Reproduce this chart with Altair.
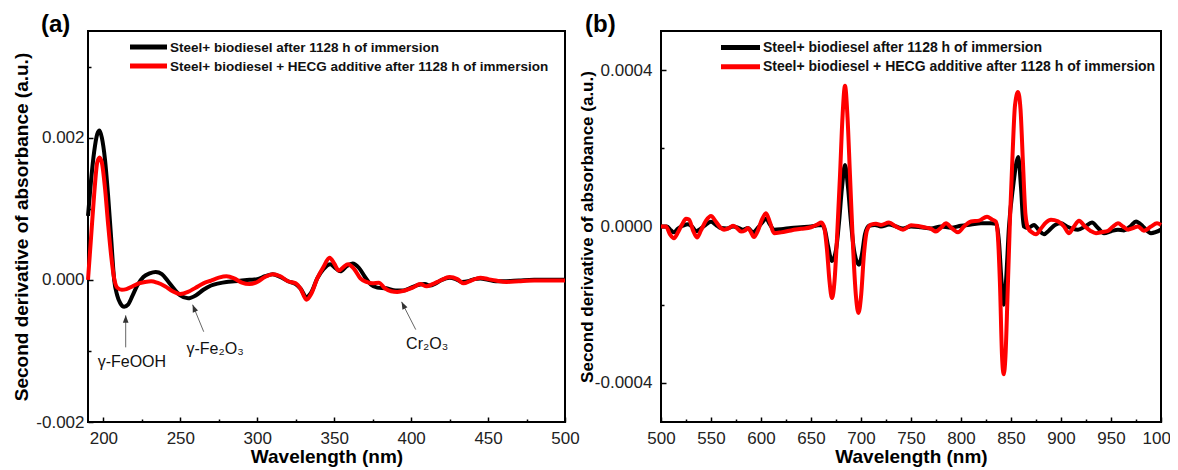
import altair as alt
import pandas as pd

FONT = "Liberation Sans"

SERIES = ["Steel+ biodiesel after 1128 h of immersion",
          "Steel+ biodiesel + HECG additive after 1128 h of immersion"]
COLORS = ["#000000", "#ff0000"]

# ---------------- panel (a): 190-500 nm ----------------
A_BLACK_W = [190, 192, 194, 196, 197.5, 199, 201, 203, 205, 207, 209, 211, 213.5, 216, 219, 222,
             226, 230, 234, 238, 242, 246, 250, 255, 260, 265, 270, 275, 280, 285, 290, 295, 300,
             305, 310, 315, 320, 325, 328, 332, 335, 339, 343, 347.5, 351, 354, 358, 362, 366, 370,
             374, 378, 384, 390, 395, 400, 405, 409, 412, 416, 420, 425, 429, 433, 437, 441, 445,
             450, 455, 460, 470, 480, 490, 500]
A_BLACK_V = [0.0009, 0.0014, 0.0018, 0.00205, 0.0021, 0.0020, 0.0017, 0.0012, 0.0006, 0.0, -0.00022,
             -0.00033, -0.00038, -0.00035, -0.00022, -0.00008, 0.00004, 0.00009, 0.00011, 0.00008,
             -0.00002, -0.00013, -0.00022, -0.00026, -0.00022, -0.00014, -0.00008, -0.00005, -0.00003,
             -0.00002, -0.00001, 0.0, 0.00001, 0.00005, 0.00008, 0.00004, -0.00002, -0.00006, -0.00012,
             -0.00024, -0.00018, 0.00002, 0.00015, 0.00022, 0.00016, 0.00012, 0.00019, 0.00023, 0.00017,
             0.00004, -0.00007, -0.00011, -0.00012, -0.00015, -0.00015, -0.00011, -0.00007, -0.00006,
             -0.00008, -0.00005, 0.0, 0.00003, 0.00001, -0.00003, -0.00002, 0.00001, 0.00002, 0.0,
             -0.00002, -0.00002, -0.00001, 0.0, 0.0, 0.0]
A_RED_W = [190, 192, 194, 196, 197.5, 199, 201, 203, 205, 207, 209, 212, 215, 219, 223, 227, 231, 235,
           240, 245, 250, 255, 260, 265, 270, 275, 280, 285, 290, 295, 300, 305, 310, 315, 320, 325,
           328, 332, 335, 339, 343, 347, 350, 353, 356, 359, 363, 367, 371, 375, 379, 383, 387, 391,
           396, 401, 406, 410, 414, 419, 425, 430, 434, 439, 445, 450, 455, 462, 470, 480, 490, 500]
A_RED_V = [0.0, 0.0006, 0.0012, 0.00165, 0.00172, 0.00165, 0.0013, 0.0008, 0.00035, 0.00002, -0.00011,
           -0.00014, -0.00013, -0.00009, -0.00005, -0.00003, -0.00002, -0.00004, -0.00009, -0.00016,
           -0.0002, -0.00017, -0.00011, -0.00005, -0.00001, 0.00003, 0.00005, 0.00002, -0.00004,
           -0.00006, -0.00003, 0.00004, 0.00008, 0.00005, -0.00002, -0.00005, -0.00012, -0.00028,
           -0.0002, 0.00002, 0.00018, 0.00031, 0.00023, 0.00013, 0.00018, 0.00022, 0.00015, 0.00002,
           -0.00003, -0.00005, -0.00004, -0.00012, -0.00016, -0.00017, -0.00015, -0.00011, -0.00006,
           -0.00009, -0.00006, -0.00001, 0.00004, 0.00001, -0.00005, -0.00001, 0.00003, 0.00001,
           -0.00001, -0.00003, -0.00002, -0.00001, -0.00001, -0.00001]

A_XDOM = [190, 500]
A_YDOM = [-0.002, 0.0035]
A_XMAJOR = [200, 250, 300, 350, 400, 450, 500]
A_XMINOR = [225, 275, 325, 375, 425, 475]
A_YMAJOR = [-0.002, 0.0, 0.002]
A_YMINOR = [-0.001, 0.001, 0.003]

ANN_TEXT = ["γ-FeOOH", "γ-Fe₂O₃", "Cr₂O₃"]
ANN_TEXT_W = [218.5, 272.6, 410.4]
ANN_TEXT_V = [-0.00115, -0.00097, -0.0009]
ARROW_W0 = [214.5, 265.2, 403.0]
ARROW_V0 = [-0.00095, -0.00073, -0.0007]
ARROW_W1 = [214.5, 258.0, 393.8]
ARROW_V1 = [-0.0005, -0.00035, -0.00031]
ARROW_ANGLE = [0, 338, 333]

# ---------------- panel (b): 500-1000 nm ----------------
B_BLACK_W = [500, 506, 510, 513, 517, 522, 527, 531, 535, 540, 545, 550, 555, 560, 566, 572, 577, 582,
             587, 592, 597, 601, 605, 609, 613, 620, 630, 640, 650, 657, 661, 664, 667, 671, 675, 678,
             681, 684, 687, 690, 693, 698, 701, 704, 708, 714, 720, 728, 735, 742, 750, 760, 770, 780,
             790, 800, 810, 820, 830, 835, 838, 840.5, 842.7, 845, 848, 852, 857.3, 860, 862.7, 867,
             873, 878, 883, 888, 894, 900, 906, 912, 917, 924, 931, 937, 943, 950, 957, 963, 970, 975,
             982, 990, 1000]
B_BLACK_V = [0.0, 0.0, -0.00001, -0.000015, -0.000005, 0.000002, 0.000006, 0.0, -0.000012, -0.000005,
             0.000005, 0.000012, 0.000004, -0.000004, -0.000005, 0.0, -0.000003, -0.000008, -0.000004,
             -0.000015, -0.000003, 0.00001, 0.00002, 0.000005, -0.000008, -0.000007, -0.000004,
             -0.000002, 0.0, 0.000003, 0.000004, -0.00001, -0.00005, -0.000088, -0.00006, 0.00001,
             0.0001, 0.000157, 0.0001, 0.00001, -0.00006, -0.0000977, -0.00007, -0.00002, 0.000002,
             0.000004, 0.0, 0.000005, 0.0, -0.000005, 0.0, -0.000002, -0.000005, 0.0, -0.000003,
             0.000002, 0.000005, 0.000008, 0.000008, 0.000007, -0.00004, -0.00014, -0.0002, -0.00014,
             0.0, 0.0001, 0.000178, 0.0001, 0.0, -0.000004, 0.000004, -0.00001, -0.00002, -0.00001,
             0.000004, 0.000008, 0.0, -0.000006, -0.000008, 0.0, 0.00001, -0.000004, -0.000017,
             -0.000012, -0.000008, -0.00001, 0.000002, 0.000013, 0.0, -0.000017, -0.000008]
B_RED_W = [500, 505, 509, 513, 517, 521, 525, 528, 532, 536, 540, 545, 550, 555, 560, 563, 568, 572,
           576, 580, 584, 587, 590, 593, 597, 601, 605, 609, 613, 620, 630, 640, 650, 657, 660, 663,
           666, 668.5, 671, 673.5, 676, 679, 681.5, 684, 686.5, 689, 692, 695, 697.5, 700, 703, 706,
           710, 715, 720, 728, 735, 742, 750, 763, 770, 775, 780, 785, 791, 797, 803, 810, 818, 826,
           831, 835, 837, 839, 841, 842.7, 844.5, 846.5, 849, 851.5, 854, 857, 859.5, 862, 864.5, 867,
           871, 875, 880, 885, 890, 897, 903, 908, 913, 918, 924, 930, 935, 941, 947, 952, 957, 962,
           967, 972, 977, 983, 990, 996, 1000]
B_RED_V = [0.0, 0.0, -0.00002, -0.00003, -0.000015, 0.000005, 0.00002, 0.000018, -0.00001, -0.000028,
           -0.00001, 0.000015, 0.000027, 0.000012, -0.000004, -0.000008, -0.000004, 0.000002,
           -0.000004, -0.000013, -0.00001, -0.000004, -0.000015, -0.000027, -0.00001, 0.000018,
           0.000034, 0.00001, -0.000017, -0.000015, -0.00001, -0.000006, -0.000002, 0.000006,
           0.00001, 0.0, -0.00006, -0.00014, -0.000183, -0.00014, -0.00003, 0.00013, 0.00028, 0.00036,
           0.00028, 0.00013, -0.00005, -0.00018, -0.000221, -0.00018, -0.00007, -0.00001, 0.000005,
           0.000007, 0.000004, 0.00001, 0.0, -0.000008, 0.000003, -0.000002, -0.000006, -0.000013,
           -0.000003, 0.000008, -0.000005, -0.000015, 0.0, 0.000013, 0.000015, 0.000025, 0.000018,
           0.000012, -0.00003, -0.00015, -0.00033, -0.000378, -0.00033, -0.00018, 0.00002, 0.00018,
           0.00031, 0.000344, 0.0003, 0.00016, 0.00003, -0.000004, -0.000015, -0.00002, -0.000005,
           0.00001, 0.000017, 0.000013, 0.0, -0.000017, 0.0, 0.000015, 0.0, -0.000012, -0.000017,
           -0.000014, -0.000011, 0.0, 0.000008, 0.0, -0.000008, -0.000004, 0.0, -0.000011, 0.0,
           0.000008, 0.000004]

B_XDOM = [500, 1000]
B_YDOM = [-0.0005, 0.0005]
B_XMAJOR = list(range(500, 1001, 50))
B_XMINOR = list(range(525, 1000, 50))
B_YMAJOR = [-0.0004, 0.0, 0.0004]
B_YMINOR = [-0.0002, 0.0002]


def qx(field, dom, axis=None):
    return alt.X(field, type="quantitative", scale=alt.Scale(domain=dom, nice=False, zero=False),
                 axis=axis)


def qy(field, dom, axis=None):
    return alt.Y(field, type="quantitative", scale=alt.Scale(domain=dom, nice=False, zero=False),
                 axis=axis)


def panel(label, label_dx, bw, bv, rw, rv, xdom, ydom, xmaj, xmin, ymaj, ymin, decimals,
          width, height, ylab_pad, ytitle_size, ytitle_pad, leg_x0, leg_x1, leg_rows, leg_size,
          annotations=None):
    black = pd.DataFrame({"w": bw, "v": bv})
    red = pd.DataFrame({"w": rw, "v": rv})
    yexpr = ("datum.value < 0 ? '-' + format(-datum.value, '.%df') : format(datum.value, '.%df')"
             % (decimals, decimals))
    xaxis = alt.Axis(values=xmaj, orient="bottom", tickSize=5, offset=-5, domain=False, grid=False,
                     ticks=True, tickColor="black", tickWidth=1.5, labelPadding=8, labelFontSize=17,
                     labelFont=FONT, labelColor="#222", labelFlush=False, format="d",
                     title="Wavelength (nm)", titleFont=FONT, titleFontSize=19,
                     titleFontWeight="bold", titleColor="black", titlePadding=1)
    yaxis = alt.Axis(values=ymaj, orient="left", tickSize=5, offset=-5, domain=False, grid=False,
                     tickColor="black", tickWidth=1.5, labelPadding=ylab_pad, labelFontSize=17,
                     labelFont=FONT, labelColor="#222", labelExpr=yexpr,
                     title="Second derivative of absorbance (a.u.)", titleFont=FONT,
                     titleFontSize=ytitle_size, titleFontWeight="bold", titleColor="black",
                     titlePadding=ytitle_pad)
    minor_x_axis = alt.Axis(values=xmin, tickSize=3, offset=-3, domain=False, grid=False,
                            labels=False, title=None, tickColor="black", tickWidth=1.5,
                            orient="bottom")
    minor_y_axis = alt.Axis(values=ymin, tickSize=3, offset=-3, domain=False, grid=False,
                            labels=False, title=None, tickColor="black", tickWidth=1.5,
                            orient="left")

    l_black = alt.Chart(black).mark_line(color=COLORS[0], strokeWidth=4, interpolate="monotone").encode(
        x=qx("w", xdom, xaxis), y=qy("v", ydom, yaxis))
    l_red = alt.Chart(red).mark_line(color=COLORS[1], strokeWidth=4, interpolate="monotone").encode(
        x=qx("w", xdom), y=qy("v", ydom))

    mx = pd.DataFrame({"w": xmin, "v": [0.0] * len(xmin)})
    my = pd.DataFrame({"w": [xdom[0] + 10] * len(ymin), "v": ymin})
    minor_x = alt.Chart(mx).mark_point(opacity=0).encode(x=qx("w", xdom, minor_x_axis),
                                                         y=qy("v", ydom))
    minor_y = alt.Chart(my).mark_point(opacity=0).encode(x=qx("w", xdom),
                                                         y=qy("v", ydom, minor_y_axis))

    layers = [l_black, l_red, minor_x, minor_y]

    for i, (name, col) in enumerate(zip(SERIES, COLORS)):
        yrow = leg_rows[i]
        layers.append(alt.Chart(black.head(1)).mark_rule(color=col, strokeWidth=5).encode(
            x=alt.value(leg_x0), x2=alt.value(leg_x1), y=alt.value(yrow)))
        layers.append(alt.Chart(black.head(1)).mark_text(
            align="left", baseline="middle", font=FONT, fontSize=leg_size, fontWeight="bold",
            color="#111").encode(x=alt.value(leg_x1 + 3), y=alt.value(yrow + 0.5),
                                 text=alt.value(name)))

    if annotations is not None:
        ann = pd.DataFrame(annotations)
        layers.append(alt.Chart(ann).mark_rule(color="#666", strokeWidth=1).encode(
            x=qx("w0", xdom), y=qy("v0", ydom), x2="w1:Q", y2="v1:Q"))
        layers.append(alt.Chart(ann).mark_point(
            shape="M0,0 L0.38,1 L-0.38,1 Z", size=220, filled=True, color="#333", opacity=1).encode(
            x=qx("w1", xdom), y=qy("v1", ydom), angle=alt.Angle("angle:Q", scale=None)))
        layers.append(alt.Chart(ann).mark_text(
            align="center", baseline="middle", font=FONT, fontSize=16, color="#111").encode(
            x=qx("tw", xdom), y=qy("tv", ydom), text="text:N"))

    return alt.layer(*layers).resolve_axis(x="independent", y="independent").properties(
        width=width, height=height,
        title=alt.TitleParams(label, anchor="start", frame="group", fontSize=24, fontWeight="bold",
                              font=FONT, color="black", dx=label_dx, offset=-25,
                              baseline="alphabetic"))


ann_a = {"text": ANN_TEXT, "tw": ANN_TEXT_W, "tv": ANN_TEXT_V, "w0": ARROW_W0, "v0": ARROW_V0,
         "w1": ARROW_W1, "v1": ARROW_V1, "angle": ARROW_ANGLE}

pa = panel("(a)", -47, A_BLACK_W, A_BLACK_V, A_RED_W, A_RED_V, A_XDOM, A_YDOM, A_XMAJOR, A_XMINOR,
           A_YMAJOR, A_YMINOR, 3, 477, 391, 4, 19, 4, 42, 79, [16, 35], 13.5, annotations=ann_a)
pb = panel("(b)", -76, B_BLACK_W, B_BLACK_V, B_RED_W, B_RED_V, B_XDOM, B_YDOM, B_XMAJOR, B_XMINOR,
           B_YMAJOR, B_YMINOR, 4, 500, 391, 9, 17, -2, 60, 99, [16.5, 35.7], 14)

chart = alt.hconcat(pa, pb, spacing=-4).properties(
    padding={"left": 3, "top": 4, "right": -11, "bottom": 0}
).configure_view(stroke="black", strokeWidth=2)

chart.save("out.html", embed_options={"renderer": "svg", "actions": False})
